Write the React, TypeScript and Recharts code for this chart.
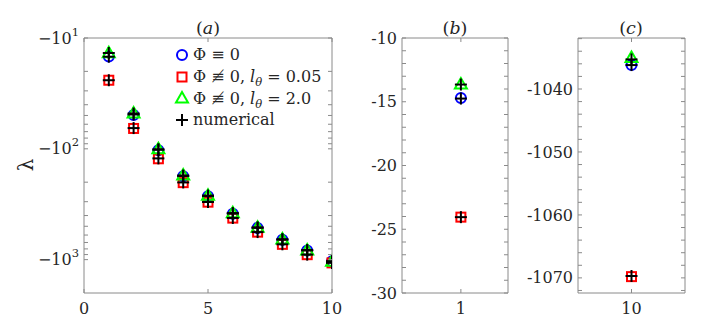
import React from "react";
import { ScatterChart, Scatter, XAxis, YAxis } from "recharts";

// mode number
const modes = [1, 2, 3, 4, 5, 6, 7, 8, 9, 10];

// eigenvalues lambda
const lamPhi0 = [-14.7, -49.5, -103, -177, -268, -385, -517, -660, -826, -1036.2];
const lamL005 = [-24.05, -65.5, -123, -202, -303, -422, -565, -728, -902, -1069.8];
const lamL2 = [-13.6, -47.5, -100, -172, -262, -378, -510, -652, -818, -1035.0];
// numerical solution (black crosses)
const numPhi0 = [-14.75, -49, -102, -176, -267, -384, -516, -659, -825, -1036.2];
const numL005 = [-24.05, -65, -122, -201, -302, -421, -564, -727, -901, -1069.7];
const numL2 = [-13.65, -48, -101, -174, -264, -380, -512, -655, -820, -1035.3];

// tick values
const aXTicks = [0, 5, 10];
const aYTicks = [10, 20, 30, 40, 50, 60, 70, 80, 90, 100, 200, 300, 400, 500, 600, 700, 800, 900, 1000];
const aYLabels = [10, 100, 1000];
const bYTicks = [-30, -29, -28, -27, -26, -25, -24, -23, -22, -21, -20, -19, -18, -17, -16, -15, -14, -13, -12, -11, -10];
const bYLabels = [-30, -25, -20, -15, -10];
const cYTicks = [-1072, -1070, -1068, -1066, -1064, -1062, -1060, -1058, -1056, -1054, -1052, -1050, -1048, -1046, -1044, -1042, -1040, -1038, -1036, -1034, -1032];
const cYLabels = [-1070, -1060, -1050, -1040];

const AX = "#8a8a8a";
const TXT = "#262626";
const FONT = "'DejaVu Serif', serif";
const FS = 16;
const TL = 4; // inward tick length

const CircleMk = (p: any) => <circle cx={p.cx} cy={p.cy} r={5} fill="none" stroke="#0000ff" strokeWidth={2} />;
const SquareMk = (p: any) => <rect x={p.cx - 4.5} y={p.cy - 4.5} width={9} height={9} fill="none" stroke="#ff0000" strokeWidth={2} />;
const TriMk = (p: any) => (
  <polygon points={`${p.cx},${p.cy - 6} ${p.cx - 6},${p.cy + 4.5} ${p.cx + 6},${p.cy + 4.5}`} fill="none" stroke="#00ff00" strokeWidth={2} />
);
const PlusMk = (p: any) => (
  <g stroke="#000" strokeWidth={2}>
    <line x1={p.cx - 6} x2={p.cx + 6} y1={p.cy} y2={p.cy} />
    <line x1={p.cx} x2={p.cx} y1={p.cy - 6} y2={p.cy + 6} />
  </g>
);

const leftTick = (labels: number[], fmt: (v: number) => React.ReactNode) => (p: any) => {
  const v = p.payload.value;
  return (
    <g>
      <line x1={p.x} x2={p.x + TL} y1={p.y} y2={p.y} stroke={AX} />
      {labels.includes(v) && (
        <text x={p.x - 5} y={p.y} dy="0.35em" textAnchor="end" fill={TXT} fontSize={FS} fontFamily={FONT}>
          {fmt(v)}
        </text>
      )}
    </g>
  );
};
const rightTick = (p: any) => <line x1={p.x} x2={p.x - TL} y1={p.y} y2={p.y} stroke={AX} />;
const bottomTick = (p: any) => (
  <g>
    <line x1={p.x} x2={p.x} y1={p.y} y2={p.y - TL} stroke={AX} />
    <text x={p.x} y={p.y + 21} textAnchor="middle" fill={TXT} fontSize={FS} fontFamily={FONT}>{p.payload.value}</text>
  </g>
);
const topTick = (p: any) => <line x1={p.x} x2={p.x} y1={p.y} y2={p.y + TL} stroke={AX} />;

const powLabel = (v: number) => (
  <>
    −10<tspan dy={-8} fontSize={11.5}>{Math.round(Math.log10(v))}</tspan>
  </>
);
const plainLabel = (v: number) => `${v}`;

type Series = { data: { x: number; y: number }[]; shape: any };

function Panel(props: {
  left: number; width: number; margin: { top: number; right: number; bottom: number; left: number };
  yWidth: number; xDomain: number[]; xTicks: number[]; yDomain: number[]; yTicks: number[];
  yLabels: number[]; fmt: (v: number) => React.ReactNode; log?: boolean; series: Series[];
}) {
  const { left, width, margin, yWidth, xDomain, xTicks, yDomain, yTicks, yLabels, fmt, log, series } = props;
  return (
    <div style={{ position: "absolute", left, top: 0 }}>
      <ScatterChart width={width} height={326} margin={margin}>
        <XAxis xAxisId="b" type="number" dataKey="x" domain={xDomain} ticks={xTicks} interval={0}
          allowDataOverflow stroke={AX} tickLine={false} tickSize={0} tickMargin={0} height={30} tick={bottomTick} />
        <XAxis xAxisId="t" orientation="top" type="number" dataKey="x" domain={xDomain} ticks={xTicks} interval={0}
          allowDataOverflow stroke={AX} tickLine={false} tickSize={0} tickMargin={0} height={1} tick={topTick} />
        <YAxis yAxisId="l" type="number" dataKey="y" scale={log ? "log" : "linear"} reversed={!!log}
          domain={yDomain} ticks={yTicks} interval={0} allowDataOverflow stroke={AX} tickLine={false}
          tickSize={0} tickMargin={0} width={yWidth} tick={leftTick(yLabels, fmt)} />
        <YAxis yAxisId="r" orientation="right" type="number" dataKey="y" scale={log ? "log" : "linear"} reversed={!!log}
          domain={yDomain} ticks={yTicks} interval={0} allowDataOverflow stroke={AX} tickLine={false}
          tickSize={0} tickMargin={0} width={1} tick={rightTick} />
        {series.map((s, i) => (
          <Scatter key={i} xAxisId="b" yAxisId="l" data={s.data} shape={s.shape} isAnimationActive={false} />
        ))}
      </ScatterChart>
    </div>
  );
}

const pick = (vals: number[], idx: number[], abs: boolean) =>
  idx.map((i) => ({ x: modes[i], y: abs ? Math.abs(vals[i]) : vals[i] }));

const mkSeries = (idx: number[], abs: boolean): Series[] => [
  { data: pick(lamPhi0, idx, abs), shape: CircleMk },
  { data: pick(lamL005, idx, abs), shape: SquareMk },
  { data: pick(lamL2, idx, abs), shape: TriMk },
  { data: pick(numPhi0, idx, abs), shape: PlusMk },
  { data: pick(numL005, idx, abs), shape: PlusMk },
  { data: pick(numL2, idx, abs), shape: PlusMk },
];

const title = (x: number, letter: string) => (
  <div style={{ position: "absolute", left: x - 30, width: 60, top: 17, height: 22, lineHeight: "22px", textAlign: "center",
    fontFamily: FONT, fontSize: 17.5, color: TXT }}>
    (<i>{letter}</i>)
  </div>
);

const sub = (t: string) => (
  <i style={{ fontSize: 11.5, position: "relative", top: 4, lineHeight: 0 }}>{t}</i>
);

const legendRows: { mk: any; text: React.ReactNode }[] = [
  { mk: CircleMk, text: <>Φ ≡ 0</> },
  { mk: SquareMk, text: <>Φ ≢ 0, <i>l</i>{sub("θ")} = 0.05</> },
  { mk: TriMk, text: <>Φ ≢ 0, <i>l</i>{sub("θ")} = 2.0</> },
  { mk: PlusMk, text: <>numerical</> },
];

export default function App() {
  const all = [0, 1, 2, 3, 4, 5, 6, 7, 8, 9];
  return (
    <div style={{ position: "absolute", left: 0, top: 0, width: 706, height: 326, background: "#fff", overflow: "hidden" }}>
      <Panel left={0} width={360} margin={{ top: 37, right: 27, bottom: 3, left: 24 }} yWidth={60}
        xDomain={[0, 10]} xTicks={aXTicks} yDomain={[10, 2000]} yTicks={aYTicks} yLabels={aYLabels}
        fmt={powLabel} log series={mkSeries(all, true)} />
      <Panel left={340} width={180} margin={{ top: 37, right: 11, bottom: 3, left: 2 }} yWidth={60}
        xDomain={[0.5, 1.4]} xTicks={[1]} yDomain={[-30, -10]} yTicks={bYTicks} yLabels={bYLabels}
        fmt={plainLabel} series={mkSeries([0], false)} />
      <Panel left={520} width={186} margin={{ top: 37, right: 20, bottom: 3, left: 8 }} yWidth={50}
        xDomain={[9.5, 10.5]} xTicks={[10]} yDomain={[-1072.4, -1031.9]} yTicks={cYTicks} yLabels={cYLabels}
        fmt={plainLabel} series={mkSeries([9], false)} />
      {title(208, "a")}
      {title(455, "b")}
      {title(631, "c")}
      <svg style={{ position: "absolute", left: 11, top: 150 }} width={30} height={30}>
        <text transform="translate(15,15) rotate(-90)" textAnchor="middle" dominantBaseline="central"
          fontFamily={FONT} fontSize={20} fill={TXT}>λ</text>
      </svg>
      <div style={{ position: "absolute", left: 174, top: 44, fontFamily: FONT, fontSize: 16, color: TXT }}>
        {legendRows.map((r, i) => (
          <div key={i} style={{ display: "flex", alignItems: "center", whiteSpace: "nowrap", height: 21.7 }}>
            <svg width={16} height={16} style={{ marginRight: 3 }}>{r.mk({ cx: 8, cy: 8 })}</svg>
            <span>{r.text}</span>
          </div>
        ))}
      </div>
    </div>
  );
}
